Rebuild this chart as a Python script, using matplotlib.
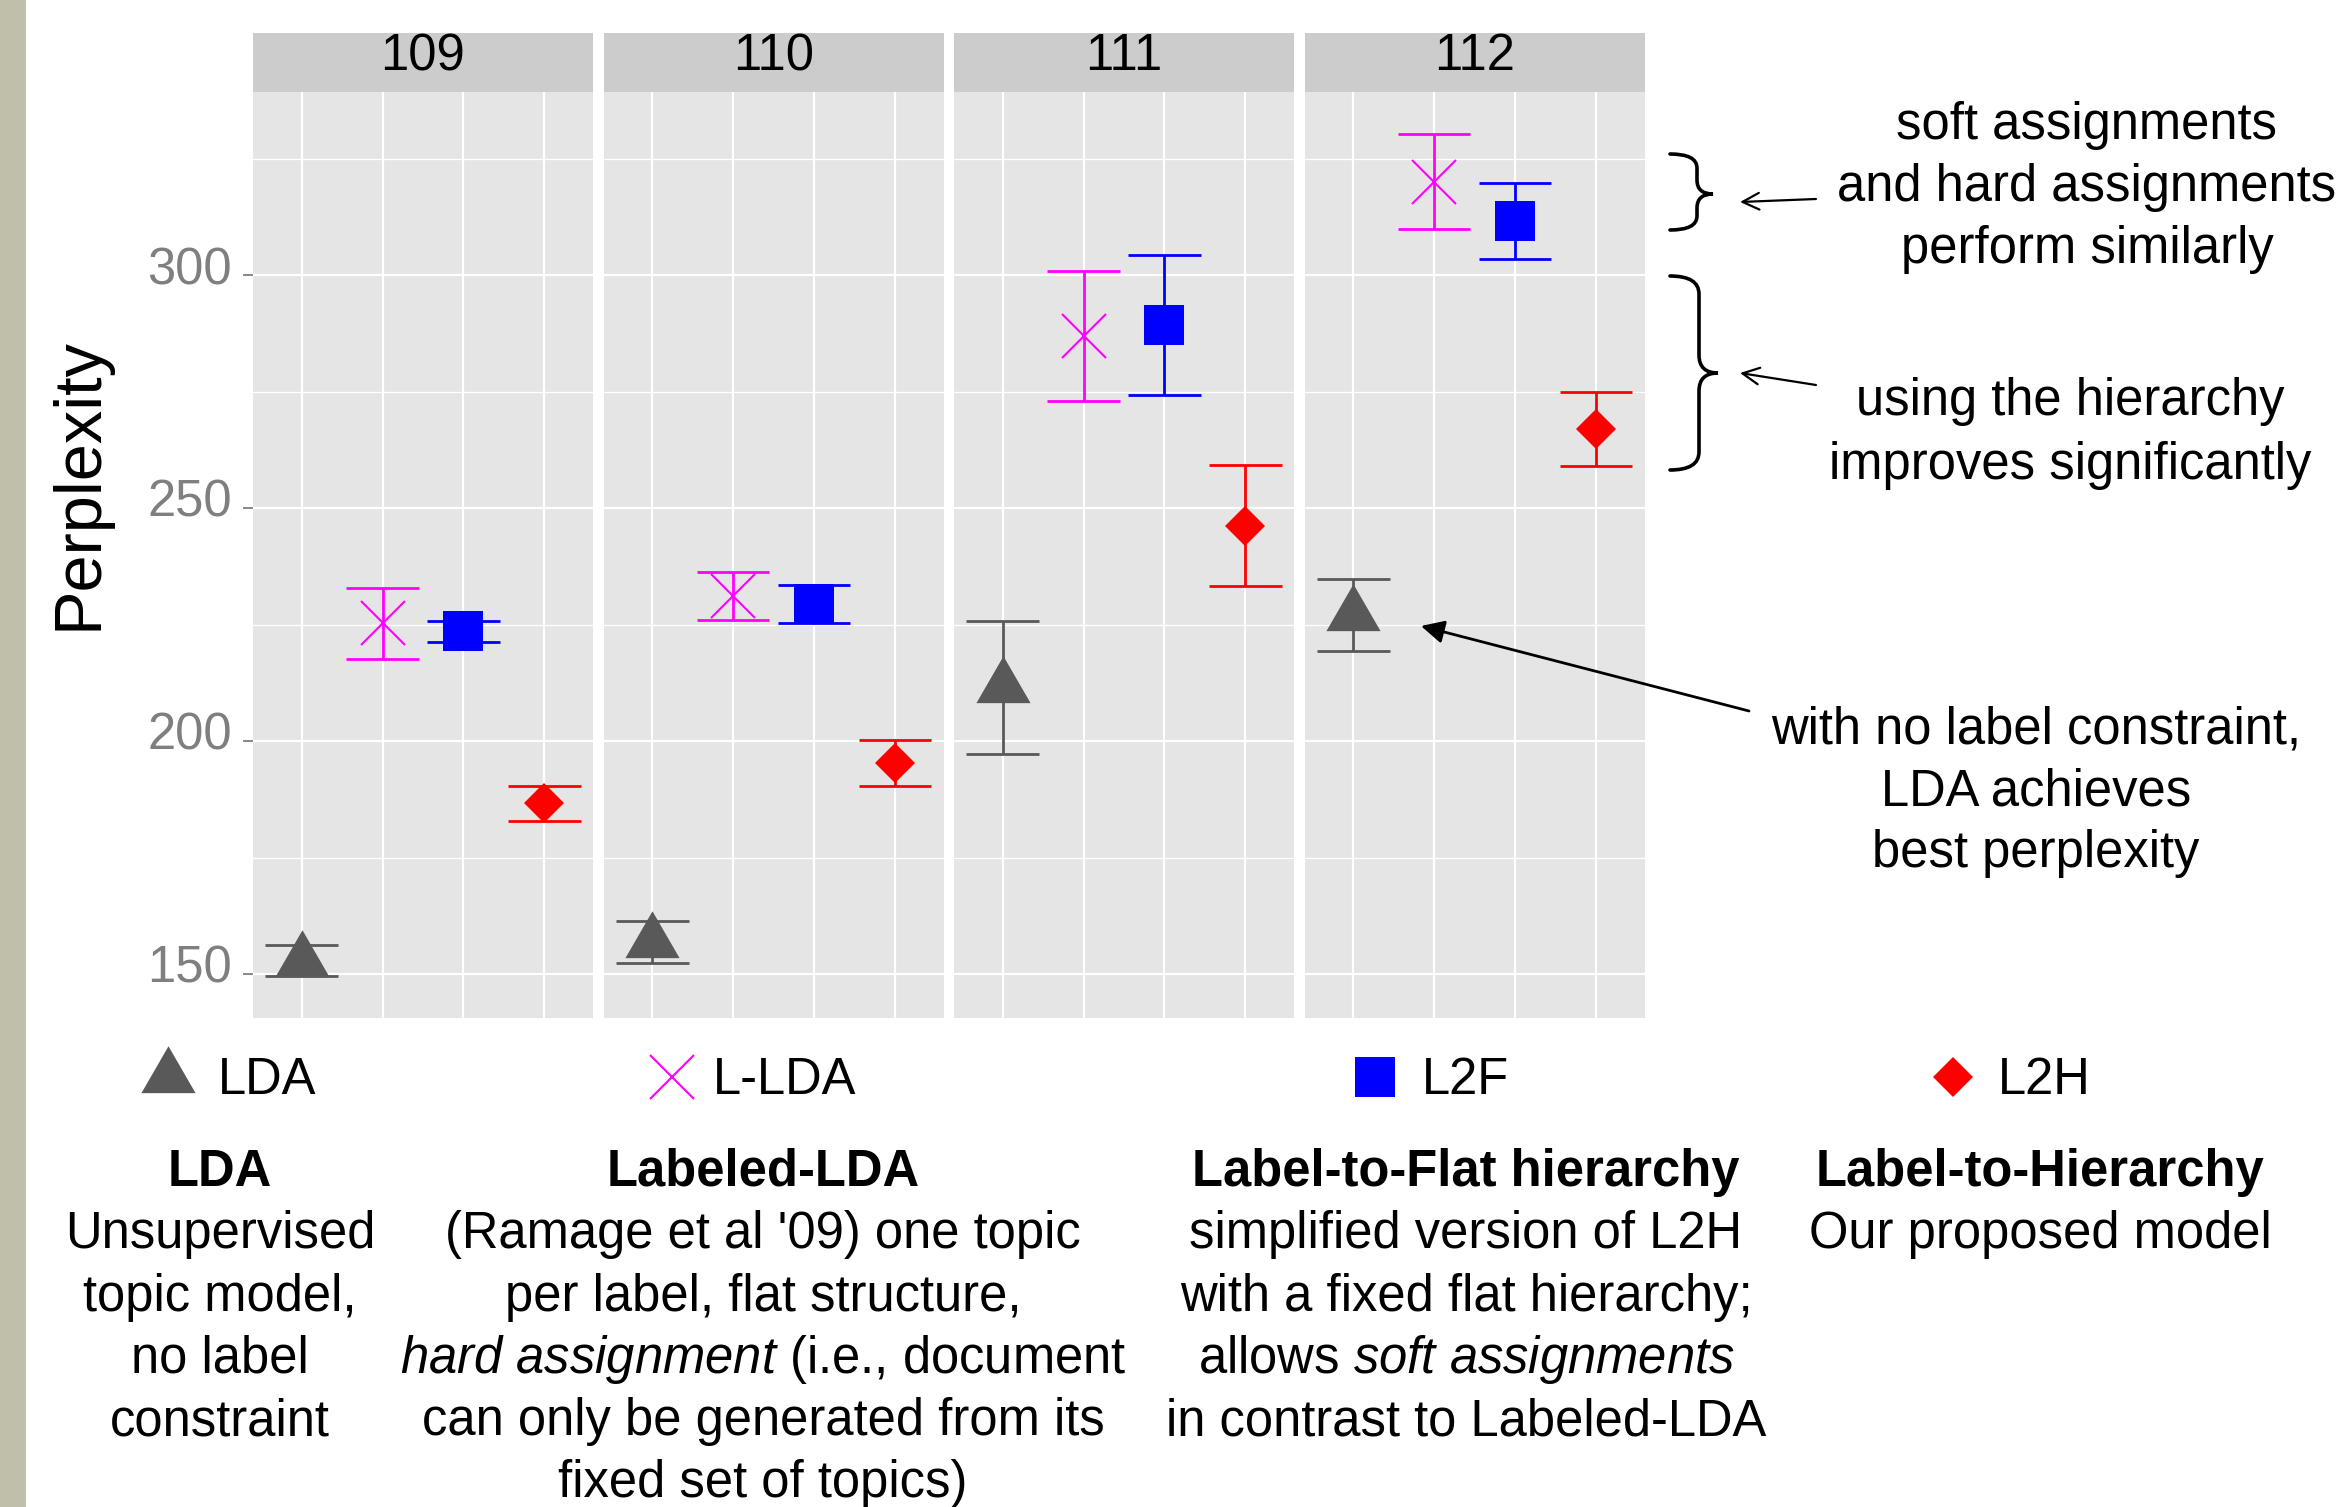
import matplotlib
matplotlib.use("Agg")
import matplotlib.pyplot as plt
from matplotlib.path import Path
from matplotlib.patches import PathPatch
from matplotlib.transforms import ScaledTranslation

plt.rcParams['font.family'] = ['Liberation Sans', 'DejaVu Sans']
plt.rcParams['mathtext.fontset'] = 'custom'
plt.rcParams['mathtext.rm'] = 'Liberation Sans'
plt.rcParams['mathtext.it'] = 'Liberation Sans:italic'

# data
groups = ['109', '110', '111', '112']
models = ['LDA', 'L-LDA', 'L2F', 'L2H']
means = {
    'LDA':   [152.9, 156.9, 211.6, 227.1],
    'L-LDA': [225.3, 231.2, 287.0, 320.1],
    'L2F':   [223.6, 229.5, 289.4, 311.7],
    'L2H':   [186.7, 195.4, 246.3, 267.0],
}
errs = {
    'LDA':   [3.3, 4.5, 14.3, 7.8],
    'L-LDA': [7.7, 5.1, 14.0, 10.2],
    'L2F':   [2.3, 4.0, 15.0, 8.1],
    'L2H':   [3.8, 4.9, 13.0, 7.9],
}
yticks = [150, 200, 250, 300]
minor_ticks = [175, 225, 275, 325]

colors = {'LDA': '#595959', 'L-LDA': '#ff00ff', 'L2F': '#0000ff', 'L2H': '#ff0000'}
tri = [(0, 0.577), (-0.5, -0.289), (0.5, -0.289)]
mstyle = {
    'LDA':   dict(marker=tri, markersize=45, markeredgewidth=0),
    'L-LDA': dict(marker='x', markersize=31, markeredgewidth=1.5),
    'L2F':   dict(marker='s', markersize=29.5, markeredgewidth=0),
    'L2H':   dict(marker='D', markersize=20.5, markeredgewidth=0),
}

W, H = 2337, 1507
fig = plt.figure(figsize=(W / 100, H / 100), dpi=100)
FS = 36.5


def px_axes(x0, y0, x1, y1, **kw):
    return fig.add_axes([x0 / W, 1 - y1 / H, (x1 - x0) / W, (y1 - y0) / H], **kw)


# left decorative bar
bar = px_axes(0, 0, 25.5, H)
bar.set_facecolor('#bfbfaa')
bar.set_xticks([])
bar.set_yticks([])
for s in bar.spines.values():
    s.set_visible(False)

xs = [1, 2, 3, 4]
for gi, g in enumerate(groups):
    left = 253 + gi * 350.5
    ax = px_axes(left, 92.4, left + 340, 1018)
    ax.set_facecolor('#e5e5e5')
    ax.set_xlim(0.4, 4.6)
    ax.set_ylim(140.6, 339.3)
    ax.set_xticks(xs)
    ax.set_yticks(yticks)
    ax.set_yticks(minor_ticks, minor=True)
    ax.grid(which='major', color='white', lw=1.6)
    ax.grid(which='minor', axis='y', color='white', lw=0.9)
    ax.set_axisbelow(True)
    ax.tick_params(axis='x', length=0, labelbottom=False)
    ax.tick_params(axis='y', which='minor', length=0)
    if gi == 0:
        ax.tick_params(axis='y', length=7, width=1.3, color='#7f7f7f',
                       labelcolor='#7f7f7f', labelsize=FS, pad=8)
        # labels sit a little above their ticks in the original
        for lbl in ax.get_yticklabels():
            lbl.set_transform(lbl.get_transform() +
                              ScaledTranslation(0, 7.5 / 72, fig.dpi_scale_trans))
    else:
        ax.tick_params(axis='y', length=0, labelleft=False)
    for s in ax.spines.values():
        s.set_visible(False)

    for mi, m in enumerate(models):
        x = xs[mi]
        mu = means[m][gi]
        e = errs[m][gi]
        c = colors[m]
        ax.vlines(x, mu - e, mu + e, color=c, lw=2)
        ax.hlines([mu - e, mu + e], x - 0.45, x + 0.45, color=c, lw=2)
        ax.plot([x], [mu], color=c, linestyle='none', **mstyle[m], zorder=3)

    strip = px_axes(left, 33, left + 340, 92.4)
    strip.set_facecolor('#cccccc')
    strip.set_xticks([])
    strip.set_yticks([])
    for s in strip.spines.values():
        s.set_visible(False)
    strip.text(0.5, 0.6, g, transform=strip.transAxes, ha='center', va='center',
               fontsize=FS)

# overlay in pixel coordinates for text, legend and annotations
ov = fig.add_axes([0, 0, 1, 1], facecolor='none')
ov.set_xlim(0, W)
ov.set_ylim(H, 0)
ov.axis('off')

ov.text(80, 484, 'Perplexity', rotation=90, ha='center', va='center', fontsize=48)

# legend
leg_marker_x = [168, 672, 1375, 1953]
leg_text_x = [218, 713, 1422, 1998]
for m, mx, tx in zip(models, leg_marker_x, leg_text_x):
    ov.plot([mx], [1077], color=colors[m], linestyle='none', **mstyle[m])
    ov.text(tx, 1094, m, ha='left', va='baseline', fontsize=FS)

# model descriptions
desc_x = [220, 763, 1466, 2040]
desc_title = ['LDA', 'Labeled-LDA', 'Label-to-Flat hierarchy', 'Label-to-Hierarchy']
desc_lines = [
    ['Unsupervised', 'topic model,', 'no label', 'constraint'],
    ["(Ramage et al '09) one topic", 'per label, flat structure,',
     r'$\mathit{hard\ assignment}$ (i.e., document',
     'can only be generated from its', 'fixed set of topics)'],
    ['simplified version of L2H', 'with a fixed flat hierarchy;',
     r'allows $\mathit{soft\ assignments}$', 'in contrast to Labeled-LDA'],
    ['Our proposed model'],
]
base0 = 1186
step = 62.3
for cx, title, lines in zip(desc_x, desc_title, desc_lines):
    ov.text(cx, base0, title, ha='center', va='baseline', fontsize=FS,
            fontweight='bold')
    for k, ln in enumerate(lines):
        ov.text(cx, base0 + (k + 1) * step, ln, ha='center', va='baseline',
                fontsize=FS)

# annotations on the right
notes = [
    (2087, [139, 201, 262.5], ['soft assignments', 'and hard assignments', 'perform similarly']),
    (2070, [415, 479.5], ['using the hierarchy', 'improves significantly']),
    (2036, [743, 805.6, 867], ['with no label constraint,', 'LDA achieves', 'best perplexity']),
]
for cx, ys, lines in notes:
    for yb, ln in zip(ys, lines):
        ov.text(cx, yb, ln, ha='center', va='baseline', fontsize=FS)


def brace(x0, xm, xt, ytop, ymid, ybot, r):
    verts = [(x0, ytop), (xm, ytop), (xm, ytop + r),
             (xm, ymid - r), (xm, ymid), (xt, ymid),
             (xm, ymid), (xm, ymid + r),
             (xm, ybot - r), (xm, ybot), (x0, ybot)]
    codes = [Path.MOVETO, Path.CURVE3, Path.CURVE3,
             Path.LINETO, Path.CURVE3, Path.CURVE3,
             Path.CURVE3, Path.CURVE3,
             Path.LINETO, Path.CURVE3, Path.CURVE3]
    ov.add_patch(PathPatch(Path(verts, codes), fill=False, lw=2.6,
                           edgecolor='black', capstyle='round'))


brace(1670, 1697, 1713, 154, 194, 230, 14)
brace(1670, 1699, 1718, 276, 373, 470, 18)

ov.annotate('', xy=(1740, 202), xytext=(1816, 199),
            arrowprops=dict(arrowstyle='->', lw=1.6, color='black',
                            mutation_scale=30, shrinkA=0, shrinkB=0))
ov.annotate('', xy=(1740, 373), xytext=(1816, 385),
            arrowprops=dict(arrowstyle='->', lw=1.6, color='black',
                            mutation_scale=30, shrinkA=0, shrinkB=0))
ov.annotate('', xy=(1421, 626), xytext=(1749, 711),
            arrowprops=dict(arrowstyle='-|>', lw=2, color='black',
                            mutation_scale=35, shrinkA=0, shrinkB=0))

fig.savefig('out.png', dpi=100, facecolor='white')
